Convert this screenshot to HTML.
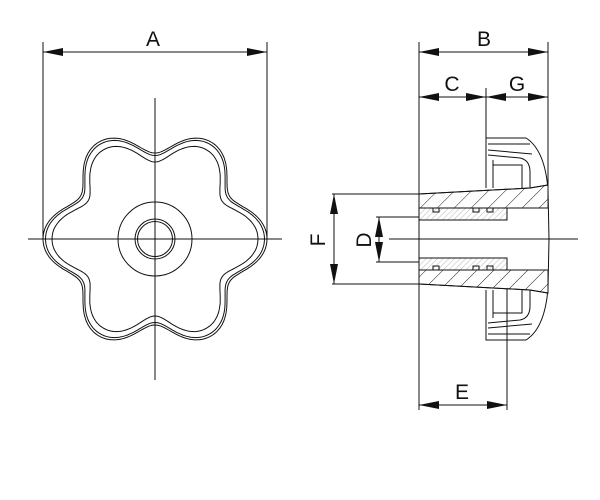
<!DOCTYPE html>
<html><head><meta charset="utf-8"><style>
html,body{margin:0;padding:0;background:#fff;width:600px;height:500px;overflow:hidden}
svg{display:block}
text{font-family:"Liberation Sans",sans-serif;font-size:21px;fill:#111}
</style></head><body>
<svg id="s" width="600" height="500" viewBox="0 0 600 500" xmlns="http://www.w3.org/2000/svg">
<defs>
<marker id="a" viewBox="0 0 20 8" refX="20" refY="4" markerWidth="20" markerHeight="8" markerUnits="userSpaceOnUse" orient="auto-start-reverse"><path d="M0,0L20,4L0,8z" fill="#111"/></marker>
<pattern id="h" width="12" height="12" patternUnits="userSpaceOnUse" patternTransform="rotate(45)"><line x1="0" y1="0" x2="0" y2="12" stroke="#222" stroke-width="1"/></pattern>
<pattern id="h2" width="4" height="4" patternUnits="userSpaceOnUse" patternTransform="rotate(45)"><line x1="0" y1="0" x2="0" y2="4" stroke="#888" stroke-width="0.6"/></pattern>
</defs>
<g stroke="#111" stroke-width="1" fill="none">
<line x1="28" y1="239" x2="282" y2="239"/>
<line x1="155" y1="98" x2="155" y2="380"/>
<line x1="43" y1="42" x2="43" y2="239"/>
<line x1="267" y1="42" x2="267" y2="239"/>
<line x1="43" y1="52" x2="267" y2="52" marker-start="url(#a)" marker-end="url(#a)"/>
<circle cx="155" cy="239" r="37"/>
<circle cx="155" cy="239" r="20"/>
<circle cx="155" cy="239" r="17.5"/>
<path id="o1"/><path id="o2"/><path id="o3"/>
<path d="M486,138 L526,138 Q545,150 548,190 L549,239 L548,288 Q545,328 526,340 L486,340 Z" fill="#fff" stroke="none"/>
<path d="M486,188 L486,138 L526,138 Q545,150 548,190 L549,239 L548,288 Q545,328 526,340 L486,340 L486,290"/>
<path d="M488,144 L530,144 M488,150 L532,154 M488,155 L520,158 Q530,160 530,172 L530,188 M493,160 L493,188 M493,165 L522,165 L522,190" />
<path d="M488,334 L530,334 M488,328 L532,324 M488,323 L520,320 Q530,318 530,306 L530,290 M493,318 L493,290 M493,313 L522,313 L522,288" />
<line x1="419" y1="42" x2="419" y2="410"/>
<line x1="548" y1="42" x2="548" y2="190"/>
<line x1="486" y1="88" x2="486" y2="138"/>
<line x1="507" y1="287" x2="507" y2="410"/>
<line x1="419" y1="52" x2="548" y2="52" marker-start="url(#a)" marker-end="url(#a)"/>
<line x1="419" y1="97" x2="486" y2="97" marker-start="url(#a)" marker-end="url(#a)"/>
<line x1="486" y1="97" x2="548" y2="97" marker-start="url(#a)" marker-end="url(#a)"/>
<line x1="419" y1="405" x2="507" y2="405" marker-start="url(#a)" marker-end="url(#a)"/>
<line x1="332" y1="194" x2="419" y2="194"/>
<line x1="332" y1="284" x2="419" y2="284"/>
<line x1="334" y1="194" x2="334" y2="284" marker-start="url(#a)" marker-end="url(#a)"/>
<line x1="376" y1="217" x2="419" y2="217"/>
<line x1="376" y1="262" x2="419" y2="262"/>
<line x1="379" y1="217" x2="379" y2="262" marker-start="url(#a)" marker-end="url(#a)"/>
<path d="M419,194 L530,188 L548,185 L548,208 L507,208 L507,220 L419,220 Z" fill="#fff"/>
<path d="M419,194 L530,188 L548,185 L548,208 L507,208 L507,220 L419,220 Z" fill="url(#h)"/>
<path d="M419,284 L530,290 L548,293 L548,270 L507,270 L507,258 L419,258 Z" fill="#fff"/>
<path d="M419,284 L530,290 L548,293 L548,270 L507,270 L507,258 L419,258 Z" fill="url(#h)"/>
<rect x="419" y="208" width="88" height="12" fill="#fff"/>
<rect x="419" y="208" width="88" height="12" fill="url(#h2)"/>
<rect x="419" y="258" width="88" height="12" fill="#fff"/>
<rect x="419" y="258" width="88" height="12" fill="url(#h2)"/>
<path d="M433,208v4h6v-4M473,208v4h6v-4M487,208v4h6v-4"/>
<path d="M433,270v-4h6v4M473,270v-4h6v4M487,270v-4h6v4"/>
<rect x="507.5" y="208.5" width="40" height="61" fill="#fff" stroke="none"/>
<path d="M507,208 L548,208 M507,270 L548,270"/>
<line x1="389" y1="239" x2="578" y2="239"/>
</g>
<text x="153" y="46" text-anchor="middle">A</text>
<text x="484" y="46" text-anchor="middle">B</text>
<text x="452" y="91" text-anchor="middle">C</text>
<text x="517" y="91" text-anchor="middle">G</text>
<text x="462" y="399" text-anchor="middle">E</text>
<text x="0" y="0" text-anchor="middle" transform="translate(325,240) rotate(-90)">F</text>
<text x="0" y="0" text-anchor="middle" transform="translate(371,240) rotate(-90)">D</text>
<script>
function star(off){var d="";for(var i=0;i<=360;i++){var t=i*Math.PI/180;var r=100+13*Math.cos(6*t)-1*Math.cos(12*t)-off;var x=155+r*Math.cos(t),y=239+r*Math.sin(t);d+=(i?"L":"M")+x.toFixed(1)+","+y.toFixed(1);}return d+"Z";}
document.getElementById("o1").setAttribute("d",star(0));
document.getElementById("o2").setAttribute("d",star(2.5));
document.getElementById("o3").setAttribute("d",star(9));
</script>
</svg>
</body></html>
